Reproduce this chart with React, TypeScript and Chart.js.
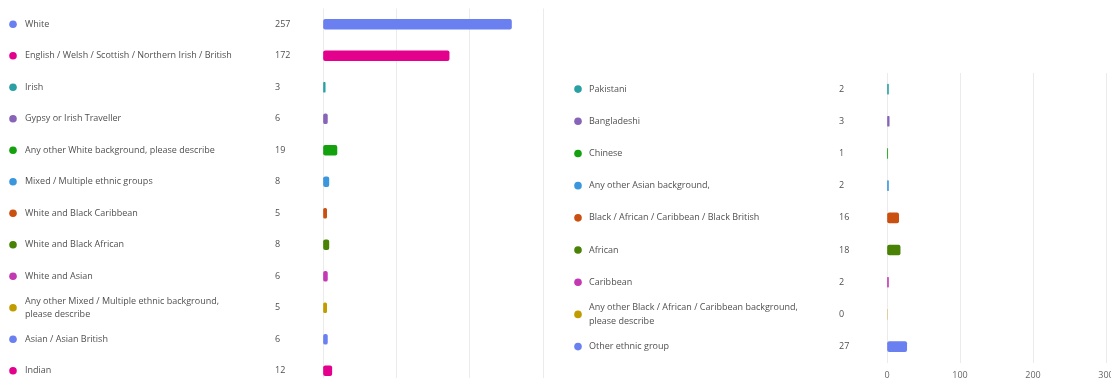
import React, { useEffect, useRef } from "react";
import { Chart, registerables } from "chart.js";

Chart.register(...registerables);

// ---- Data ----
const leftCategories: (string | string[])[] = [
  "White",
  "English / Welsh / Scottish / Northern Irish / British",
  "Irish",
  "Gypsy or Irish Traveller",
  "Any other White background, please describe",
  "Mixed / Multiple ethnic groups",
  "White and Black Caribbean",
  "White and Black African",
  "White and Asian",
  ["Any other Mixed / Multiple ethnic background,", "please describe"],
  "Asian / Asian British",
  "Indian",
];
const leftValues: number[] = [257, 172, 3, 6, 19, 8, 5, 8, 6, 5, 6, 12];

const rightCategories: (string | string[])[] = [
  "Pakistani",
  "Bangladeshi",
  "Chinese",
  "Any other Asian background,",
  "Black / African / Caribbean / Black British",
  "African",
  "Caribbean",
  ["Any other Black / African / Caribbean background,", "please describe"],
  "Other ethnic group",
];
const rightValues: number[] = [2, 3, 1, 2, 16, 18, 2, 0, 27];

const xTicks: number[] = [0, 100, 200, 300];

const palette: string[] = [
  "#6a7ff0",
  "#e3008c",
  "#2aa0a4",
  "#8764b8",
  "#13a10e",
  "#3a96dd",
  "#ca5010",
  "#498205",
  "#c239b3",
  "#c19c00",
];

const FONT_FAMILY = '"Segoe UI", "Open Sans", sans-serif';
const TEXT_COLOR = "#505050";
const GRID_COLOR = "#ebebeb";

const dotsPlugin = {
  id: "dots",
  afterDraw(chart: any, _args: any, opts: any) {
    const yScale = chart.scales.y;
    const ctx = chart.ctx;
    ctx.save();
    (opts.colors as string[]).forEach((c, i) => {
      const py = yScale.getPixelForValue(i);
      ctx.beginPath();
      ctx.arc(opts.x, py, 3.8, 0, Math.PI * 2);
      ctx.fillStyle = c;
      ctx.fill();
    });
    ctx.restore();
  },
};

type PanelProps = {
  labels: (string | string[])[];
  values: number[];
  colorOffset: number;
  left: number;
  width: number;
  height: number;
  padding: { left: number; right: number; top: number; bottom: number };
  dotX: number;
  showXTicks: boolean;
};

function BarPanel(p: PanelProps) {
  const ref = useRef<HTMLCanvasElement | null>(null);
  useEffect(() => {
    if (!ref.current) return;
    const colors = p.values.map((_, i) => palette[(i + p.colorOffset) % palette.length]);
    const font = { family: FONT_FAMILY, size: 9, lineHeight: 1.45 };
    const chart = new Chart(ref.current, {
      type: "bar",
      data: {
        labels: p.labels as any,
        datasets: [
          {
            data: p.values,
            backgroundColor: colors,
            borderWidth: 0,
            borderRadius: 2,
            borderSkipped: false,
            barThickness: 10,
            yAxisID: "y",
          },
        ],
      },
      plugins: [dotsPlugin],
      options: {
        indexAxis: "y",
        responsive: false,
        animation: false,
        events: [],
        layout: { padding: p.padding },
        plugins: {
          legend: { display: false },
          tooltip: { enabled: false },
          dots: { colors, x: p.dotX },
        } as any,
        scales: {
          x: {
            min: xTicks[0],
            max: xTicks[xTicks.length - 1],
            afterBuildTicks: (s: any) => {
              s.ticks = xTicks.map((v) => ({ value: v }));
            },
            ticks: {
              display: p.showXTicks,
              color: "#666",
              font: { family: FONT_FAMILY, size: 9, lineHeight: 1.2 },
              padding: 7.75,
            },
            grid: { color: GRID_COLOR, drawTicks: false, lineWidth: 1 },
            border: { display: false },
          },
          y: {
            type: "category",
            position: "left",
            weight: 1,
            grid: { display: false },
            border: { display: false },
            ticks: {
              crossAlign: "far",
              color: TEXT_COLOR,
              font,
              autoSkip: false,
              padding: 0,
            },
            afterFit: (s: any) => {
              s.width = 250;
            },
          },
          y2: {
            type: "category",
            labels: p.values.map((v) => String(v)),
            position: "left",
            weight: 0,
            offset: true,
            grid: { display: false },
            border: { display: false },
            ticks: {
              crossAlign: "far",
              color: TEXT_COLOR,
              font,
              autoSkip: false,
              padding: 0,
            },
            afterFit: (s: any) => {
              s.width = 48;
            },
          },
        },
      } as any,
    });
    return () => chart.destroy();
  }, []);
  return (
    <canvas
      ref={ref}
      width={p.width}
      height={p.height}
      style={{ position: "absolute", left: p.left, top: 0, width: p.width, height: p.height }}
    />
  );
}

export default function App() {
  return (
    <div
      style={{
        position: "fixed",
        left: 0,
        top: 0,
        width: 1111,
        height: 378,
        overflow: "hidden",
        background: "#ffffff",
      }}
    >
      <BarPanel
        labels={leftCategories}
        values={leftValues}
        colorOffset={0}
        left={0}
        width={560}
        height={400}
        padding={{ left: 25, right: 17, top: 8.5, bottom: 13.5 }}
        dotX={13}
        showXTicks={false}
      />
      <BarPanel
        labels={rightCategories}
        values={rightValues}
        colorOffset={2}
        left={560}
        width={570}
        height={390}
        padding={{ left: 29, right: 24, top: 73, bottom: 1 }}
        dotX={18}
        showXTicks={true}
      />
    </div>
  );
}
